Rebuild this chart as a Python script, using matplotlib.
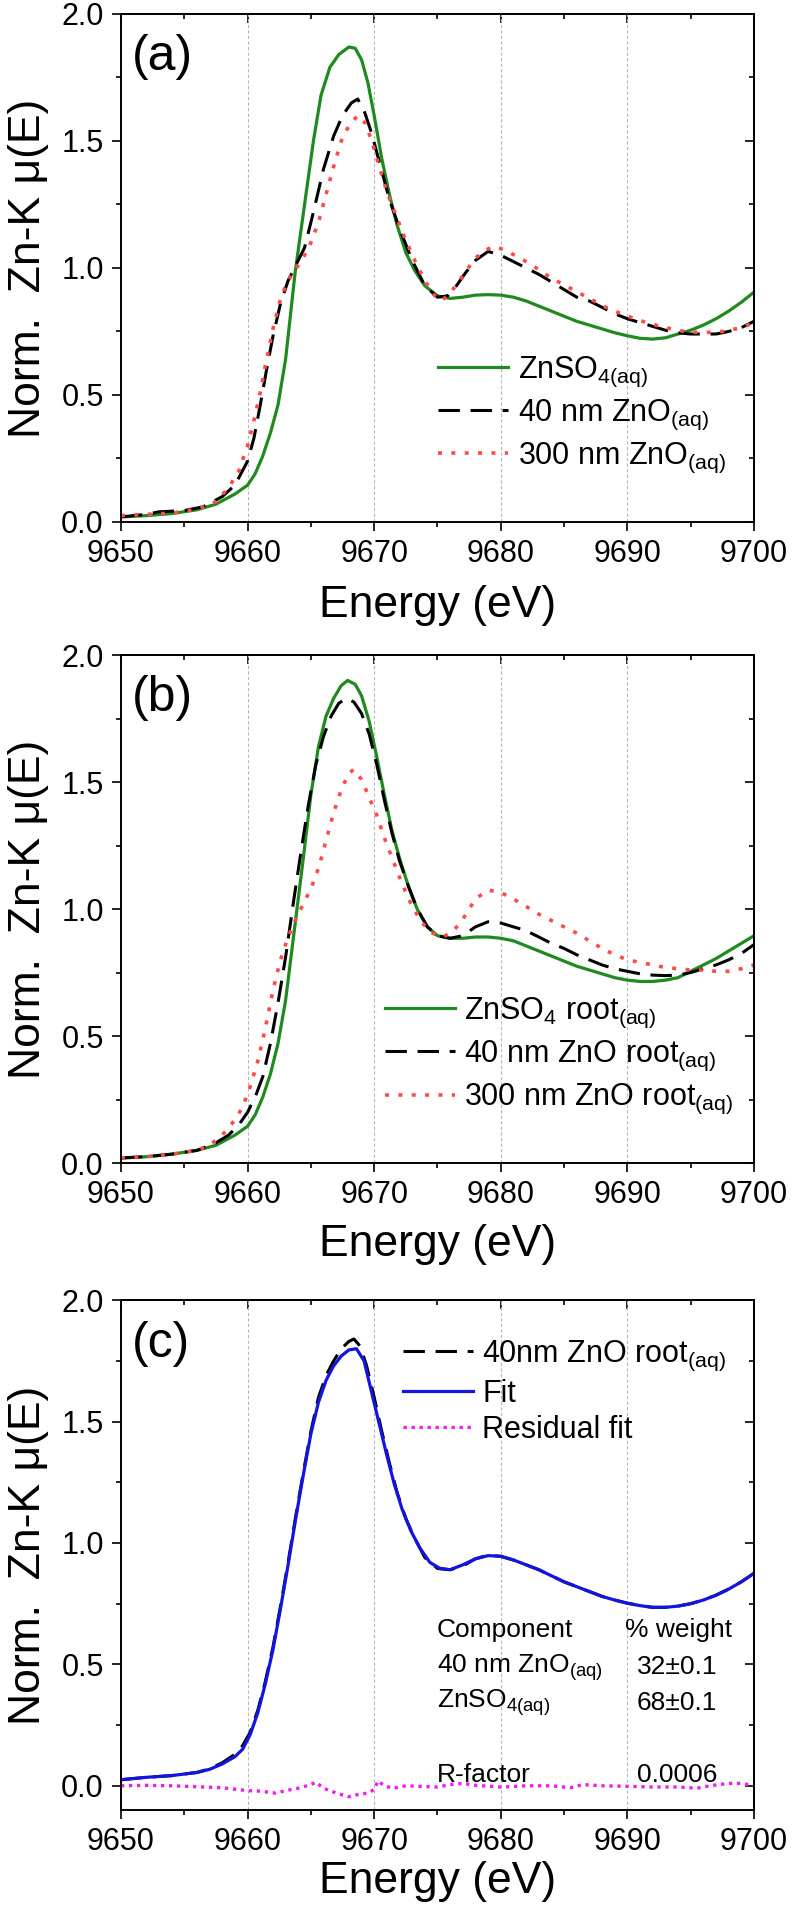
import matplotlib
matplotlib.use("Agg")
import matplotlib.pyplot as plt
from matplotlib.ticker import MultipleLocator

plt.rcParams['font.family'] = ['Liberation Sans', 'DejaVu Sans']
plt.rcParams['mathtext.fontset'] = 'custom'
plt.rcParams['mathtext.rm'] = 'Liberation Sans'
plt.rcParams['mathtext.it'] = 'Liberation Sans:italic'
plt.rcParams['mathtext.bf'] = 'Liberation Sans:bold'

# ---- panel (a): aqueous standards ----
e_a_so4 = [9650, 9652, 9654, 9656, 9657.5, 9659, 9660, 9660.6, 9661.2, 9661.8, 9662.4, 9663, 9663.75,
           9664.5, 9665.2, 9665.8, 9666.5, 9667.2, 9668, 9668.5, 9669, 9669.5, 9670, 9670.6, 9671.2,
           9671.8, 9672.5, 9673.2, 9674, 9675, 9676, 9677, 9678, 9679, 9680, 9681, 9682, 9683, 9684,
           9685, 9686, 9687, 9688, 9689, 9690, 9691, 9692, 9693, 9694, 9695, 9696, 9697, 9698, 9699, 9700]
mu_a_so4 = [0.02, 0.025, 0.033, 0.048, 0.07, 0.11, 0.145, 0.19, 0.26, 0.35, 0.46, 0.64, 0.98,
            1.25, 1.50, 1.68, 1.79, 1.84, 1.87, 1.865, 1.82, 1.73, 1.60, 1.43, 1.29,
            1.17, 1.06, 0.99, 0.93, 0.89, 0.88, 0.885, 0.893, 0.895, 0.893, 0.885, 0.87, 0.85, 0.83,
            0.81, 0.79, 0.775, 0.76, 0.745, 0.733, 0.723, 0.72, 0.725, 0.74, 0.755, 0.775, 0.80, 0.83, 0.865, 0.905]

e_a_40 = [9650, 9652, 9653, 9655, 9656.5, 9658, 9659, 9660, 9660.5, 9661, 9661.5, 9662, 9662.6, 9663.2,
          9663.8, 9664.5, 9665.2, 9666, 9666.8, 9667.5, 9668.2, 9668.7, 9669.2, 9669.8, 9670.5, 9671.2,
          9672, 9673, 9674, 9675, 9675.8, 9676.5, 9677.2, 9678, 9679, 9680, 9681, 9682, 9683, 9684,
          9685, 9686, 9687, 9688, 9689, 9690, 9691, 9692, 9693, 9694, 9695, 9696, 9697, 9698, 9699, 9700]
mu_a_40 = [0.02, 0.03, 0.04, 0.045, 0.06, 0.10, 0.145, 0.24, 0.33, 0.46, 0.60, 0.73, 0.86, 0.95,
           1.01, 1.08, 1.22, 1.39, 1.52, 1.60, 1.65, 1.665, 1.62, 1.53, 1.40, 1.27,
           1.155, 1.03, 0.93, 0.885, 0.89, 0.93, 0.98, 1.03, 1.065, 1.05, 1.025, 1.0, 0.975, 0.945,
           0.915, 0.885, 0.87, 0.845, 0.82, 0.80, 0.785, 0.77, 0.755, 0.745, 0.74, 0.74, 0.74, 0.75, 0.765, 0.79]

e_a_300 = [9650, 9652, 9654, 9656, 9657.5, 9658.5, 9659.3, 9660, 9660.5, 9661, 9661.5, 9662, 9662.5,
           9663, 9663.5, 9664, 9664.5, 9665, 9665.6, 9666.2, 9666.8, 9667.4, 9668, 9668.7, 9669.3,
           9669.8, 9670.4, 9671, 9671.7, 9672.4, 9673.2, 9674, 9674.7, 9675.3, 9676, 9677, 9678, 9679,
           9679.6, 9680.5, 9681.5, 9682.5, 9684, 9685.5, 9687, 9688.5, 9690, 9691.5, 9693, 9694.5,
           9696, 9697.5, 9699, 9700]
mu_a_300 = [0.025, 0.03, 0.035, 0.05, 0.08, 0.135, 0.20, 0.30, 0.40, 0.51, 0.64, 0.76, 0.86,
            0.93, 0.975, 1.01, 1.05, 1.10, 1.18, 1.29, 1.40, 1.50, 1.56, 1.60, 1.57,
            1.50, 1.40, 1.30, 1.21, 1.12, 1.03, 0.95, 0.895, 0.87, 0.90, 0.97, 1.04, 1.075,
            1.085, 1.065, 1.04, 1.01, 0.96, 0.92, 0.88, 0.84, 0.81, 0.785, 0.765, 0.75,
            0.745, 0.75, 0.765, 0.785]

# ---- panel (b): root samples ----
e_b_so4 = [9650, 9652, 9654, 9656, 9657.5, 9659, 9660, 9660.6, 9661.2, 9661.8, 9662.4, 9663, 9663.7,
           9664.4, 9665, 9665.6, 9666.2, 9666.8, 9667.4, 9667.9, 9668.5, 9669, 9669.6, 9670.2, 9670.8,
           9671.4, 9672, 9672.7, 9673.4, 9674.2, 9675, 9676, 9677, 9678, 9679, 9680, 9681, 9682, 9683,
           9684, 9685, 9686, 9687, 9688, 9689, 9690, 9691, 9692, 9693, 9694, 9695, 9696, 9697, 9698,
           9699, 9700]
mu_b_so4 = [0.02, 0.025, 0.035, 0.05, 0.07, 0.11, 0.145, 0.19, 0.26, 0.35, 0.47, 0.64, 0.92,
            1.20, 1.45, 1.64, 1.76, 1.83, 1.88, 1.90, 1.885, 1.84, 1.74, 1.60, 1.45,
            1.31, 1.20, 1.09, 1.00, 0.93, 0.895, 0.885, 0.885, 0.89, 0.89, 0.885, 0.875, 0.855, 0.835,
            0.815, 0.795, 0.775, 0.76, 0.745, 0.73, 0.72, 0.715, 0.715, 0.72, 0.73, 0.755, 0.78, 0.805, 0.835,
            0.865, 0.895]

e_b_40 = [9650, 9652, 9654, 9656, 9657.5, 9658.5, 9659.3, 9660, 9660.6, 9661.2, 9661.8, 9662.4, 9663,
          9663.6, 9664.2, 9664.8, 9665.4, 9666, 9666.6, 9667.2, 9667.8, 9668.4, 9669, 9669.6, 9670.2,
          9670.8, 9671.4, 9672, 9672.7, 9673.4, 9674.2, 9675, 9676, 9677, 9678, 9679, 9680, 9681, 9682,
          9683, 9684, 9685, 9686, 9687, 9688, 9689, 9690, 9691, 9692, 9693, 9694, 9695, 9696, 9697,
          9698, 9699, 9700]
mu_b_40 = [0.02, 0.025, 0.035, 0.05, 0.08, 0.11, 0.15, 0.20, 0.26, 0.34, 0.47, 0.63, 0.81,
           1.02, 1.22, 1.41, 1.57, 1.68, 1.76, 1.81, 1.83, 1.815, 1.77, 1.69, 1.57,
           1.43, 1.30, 1.19, 1.09, 1.00, 0.93, 0.895, 0.885, 0.895, 0.93, 0.95, 0.945, 0.93, 0.915,
           0.89, 0.865, 0.845, 0.82, 0.80, 0.78, 0.765, 0.755, 0.745, 0.74, 0.738, 0.74, 0.75, 0.765, 0.78,
           0.80, 0.825, 0.86]

e_b_300 = [9650, 9652, 9654, 9656, 9657, 9658, 9659, 9659.6, 9660.2, 9660.8, 9661.4, 9662, 9662.6,
           9663.2, 9663.8, 9664.4, 9665, 9665.6, 9666.2, 9666.8, 9667.4, 9668, 9668.4, 9669, 9669.6,
           9670.2, 9670.8, 9671.5, 9672.2, 9673, 9673.8, 9674.6, 9675.4, 9676.2, 9677, 9678, 9679, 9680,
           9681, 9682, 9683, 9684, 9685, 9686, 9687, 9688, 9689, 9690, 9691, 9692, 9693, 9694, 9695,
           9696, 9697, 9698, 9699, 9700]
mu_b_300 = [0.02, 0.025, 0.035, 0.05, 0.07, 0.11, 0.17, 0.22, 0.30, 0.40, 0.53, 0.68, 0.80,
            0.89, 0.96, 1.02, 1.08, 1.16, 1.27, 1.38, 1.47, 1.535, 1.55, 1.51, 1.44,
            1.37, 1.28, 1.19, 1.10, 1.01, 0.945, 0.905, 0.89, 0.91, 0.96, 1.04, 1.075, 1.065,
            1.04, 1.01, 0.98, 0.955, 0.93, 0.905, 0.875, 0.845, 0.82, 0.80, 0.79, 0.78, 0.77, 0.765, 0.76,
            0.76, 0.755, 0.755, 0.765, 0.78]

# ---- panel (c): linear combination fit ----
e_c_data = [9650, 9652, 9654, 9656, 9657, 9658, 9659, 9659.6, 9660.2, 9660.8, 9661.4, 9662, 9662.6,
            9663.2, 9663.8, 9664.4, 9665, 9665.6, 9666.2, 9666.8, 9667.4, 9668, 9668.4, 9668.9, 9669.4,
            9670, 9670.6, 9671.2, 9671.8, 9672.5, 9673.2, 9674, 9675, 9676, 9677, 9678, 9679, 9680,
            9681, 9682, 9683, 9684, 9685, 9686, 9687, 9688, 9689, 9690, 9691, 9692, 9693, 9694, 9695,
            9696, 9697, 9698, 9699, 9700]
mu_c_data = [0.025, 0.035, 0.042, 0.055, 0.07, 0.095, 0.13, 0.165, 0.22, 0.31, 0.43, 0.57, 0.74,
             0.92, 1.11, 1.29, 1.46, 1.60, 1.69, 1.75, 1.80, 1.83, 1.84, 1.81, 1.73,
             1.60, 1.46, 1.33, 1.21, 1.10, 1.02, 0.94, 0.895, 0.89, 0.905, 0.935, 0.95, 0.945,
             0.93, 0.91, 0.89, 0.865, 0.84, 0.82, 0.80, 0.78, 0.765, 0.752, 0.742, 0.735, 0.735, 0.74, 0.75,
             0.765, 0.785, 0.81, 0.84, 0.875]

e_c_fit = [9650, 9652, 9654, 9656, 9657, 9658, 9659, 9659.6, 9660.2, 9660.8, 9661.4, 9662, 9662.6,
           9663.2, 9663.8, 9664.4, 9665, 9665.6, 9666.2, 9666.8, 9667.4, 9668, 9668.6, 9669.2, 9669.8,
           9670.4, 9671, 9671.6, 9672.2, 9672.9, 9673.6, 9674.4, 9675.2, 9676, 9677, 9678, 9679, 9680,
           9681, 9682, 9683, 9684, 9685, 9686, 9687, 9688, 9689, 9690, 9691, 9692, 9693, 9694, 9695,
           9696, 9697, 9698, 9699, 9700]
mu_c_fit = [0.025, 0.035, 0.042, 0.055, 0.068, 0.09, 0.12, 0.15, 0.21, 0.30, 0.42, 0.56, 0.73,
            0.91, 1.10, 1.28, 1.45, 1.58, 1.67, 1.73, 1.77, 1.795, 1.80, 1.75, 1.62,
            1.49, 1.36, 1.24, 1.14, 1.05, 0.98, 0.92, 0.895, 0.89, 0.91, 0.935, 0.948, 0.945,
            0.93, 0.91, 0.89, 0.865, 0.84, 0.82, 0.80, 0.78, 0.765, 0.752, 0.742, 0.735, 0.735, 0.74, 0.75,
            0.765, 0.785, 0.81, 0.84, 0.875]

e_c_res = [9650, 9652, 9654, 9656, 9658, 9660, 9661, 9662.2, 9663, 9664, 9665, 9665.4, 9666, 9667,
           9668, 9668.8, 9669.5, 9670, 9670.3, 9670.8, 9671.5, 9672.5, 9674, 9675, 9676, 9677, 9678,
           9680, 9682, 9684, 9685.5, 9686.5, 9688, 9690, 9692, 9694, 9695.5, 9696.5, 9698, 9699, 9700]
mu_c_res = [0.0, 0.002, 0.0, -0.004, -0.008, -0.02, -0.022, -0.03, -0.02, -0.01, 0.005, 0.015, -0.01, -0.03,
            -0.045, -0.035, -0.03, -0.015, 0.02, 0.0, -0.01, 0.0, -0.003, -0.005, 0.005, 0.01, 0.002,
            -0.005, 0.0, 0.0, -0.008, 0.005, 0.0, -0.002, -0.005, -0.005, -0.01, 0.0, 0.01, 0.01, 0.0]

lcf_rows = ["Component", "40 nm ZnO$_{\\mathrm{(aq)}}$", "ZnSO$_{\\mathrm{4(aq)}}$", "R-factor"]
lcf_vals = ["% weight", "32\u00b10.1", "68\u00b10.1", "0.0006"]

GREEN = '#1f8a1f'
RED = '#ff4a4a'
BLUE = '#1414e0'
MAGENTA = '#f01ef0'


def style_axes(ax, ymin, tag, xlab_y):
    ax.set_xlim(9650, 9700)
    ax.set_ylim(ymin, 2.0)
    ax.xaxis.set_major_locator(MultipleLocator(10))
    ax.xaxis.set_minor_locator(MultipleLocator(5))
    ax.yaxis.set_major_locator(MultipleLocator(0.5))
    ax.yaxis.set_minor_locator(MultipleLocator(0.25))
    ax.grid(axis='x', which='major', color='#b8b8b8', linestyle=(0, (3, 2)), linewidth=0.8)
    ax.set_axisbelow(True)
    for s in ax.spines.values():
        s.set_linewidth(1.4)
    ax.tick_params(which='both', direction='out', width=1.2, labelsize=22, pad=6,
                   top=False, right=False)
    ax.tick_params(which='major', length=6.5)
    ax.tick_params(which='minor', length=3.3)
    # mirrored axes with inward ticks
    sx = ax.secondary_xaxis('top')
    sx.xaxis.set_major_locator(MultipleLocator(10))
    sx.xaxis.set_minor_locator(MultipleLocator(5))
    sx.tick_params(which='both', direction='in', labeltop=False, width=1.2)
    sx.tick_params(which='major', length=6.5)
    sx.tick_params(which='minor', length=3.3)
    sy = ax.secondary_yaxis('right')
    sy.yaxis.set_major_locator(MultipleLocator(0.5))
    sy.yaxis.set_minor_locator(MultipleLocator(0.25))
    sy.tick_params(which='both', direction='in', labelright=False, width=1.2)
    sy.tick_params(which='major', length=6.5)
    sy.tick_params(which='minor', length=3.3)
    for s in list(sx.spines.values()) + list(sy.spines.values()):
        s.set_linewidth(1.4)
    ax.set_xlabel("Energy (eV)", fontsize=32)
    ax.set_ylabel("Norm.  Zn-K \u03bc(E)", fontsize=32)
    ax.xaxis.set_label_coords(0.5, xlab_y)
    ax.yaxis.set_label_coords(-0.114, 0.5)
    ax.text(0.017, 0.915, tag, transform=ax.transAxes, fontsize=36, va='center', ha='left')


fig = plt.figure(figsize=(7.95, 19.12), dpi=100)
ax_a = fig.add_axes([0.1522, 0.7270, 0.7962, 0.2657])
ax_b = fig.add_axes([0.1522, 0.3917, 0.7962, 0.2657])
ax_c = fig.add_axes([0.1522, 0.0533, 0.7962, 0.2667])

dash_k = (0, (7, 3.5))
dot_r = (0, (1.1, 2.6))

# (a)
ax_a.plot(e_a_so4, mu_a_so4, color=GREEN, lw=2.3, label="ZnSO$_{\\mathrm{4(aq)}}$")
ax_a.plot(e_a_40, mu_a_40, color='black', lw=2.2, linestyle=dash_k, label="40 nm ZnO$_{\\mathrm{(aq)}}$")
ax_a.plot(e_a_300, mu_a_300, color=RED, lw=2.6, linestyle=dot_r, label="300 nm ZnO$_{\\mathrm{(aq)}}$")
style_axes(ax_a, 0.0, "(a)", -0.125)
ax_a.legend(loc='upper left', bbox_to_anchor=(0.501, 0.33), frameon=False, fontsize=22,
            handlelength=2.3, handletextpad=0.3, labelspacing=0.3, borderpad=0, borderaxespad=0)

# (b)
ax_b.plot(e_b_so4, mu_b_so4, color=GREEN, lw=2.3, label="ZnSO$_4$ root$_{\\mathrm{(aq)}}$")
ax_b.plot(e_b_40, mu_b_40, color='black', lw=2.2, linestyle=dash_k, label="40 nm ZnO root$_{\\mathrm{(aq)}}$")
ax_b.plot(e_b_300, mu_b_300, color=RED, lw=2.6, linestyle=dot_r, label="300 nm ZnO root$_{\\mathrm{(aq)}}$")
style_axes(ax_b, 0.0, "(b)", -0.12)
ax_b.legend(loc='upper left', bbox_to_anchor=(0.417, 0.33), frameon=False, fontsize=22,
            handlelength=2.3, handletextpad=0.3, labelspacing=0.3, borderpad=0, borderaxespad=0)

# (c)
ax_c.plot(e_c_data, mu_c_data, color='black', lw=2.2, linestyle=dash_k, label="40nm ZnO root$_{\\mathrm{(aq)}}$")
ax_c.plot(e_c_fit, mu_c_fit, color=BLUE, lw=2.3, label="Fit")
ax_c.plot(e_c_res, mu_c_res, color=MAGENTA, lw=2.4, linestyle=(0, (1, 1.4)), label="Residual fit")
style_axes(ax_c, -0.1, "(c)", -0.1)
ax_c.legend(loc='upper left', bbox_to_anchor=(0.445, 0.925), frameon=False, fontsize=22,
            handlelength=2.3, handletextpad=0.3, labelspacing=0.2, borderpad=0, borderaxespad=0)

row_y = [0.353, 0.280, 0.210, 0.069]
for lab, val, yy in zip(lcf_rows, lcf_vals, row_y):
    ax_c.text(0.499, yy, lab, transform=ax_c.transAxes, fontsize=19, va='center', ha='left')
    vx = 0.796 if val.startswith('%') else 0.815
    ax_c.text(vx, yy, val, transform=ax_c.transAxes, fontsize=19, va='center', ha='left')

fig.savefig("out.png", dpi=100)
